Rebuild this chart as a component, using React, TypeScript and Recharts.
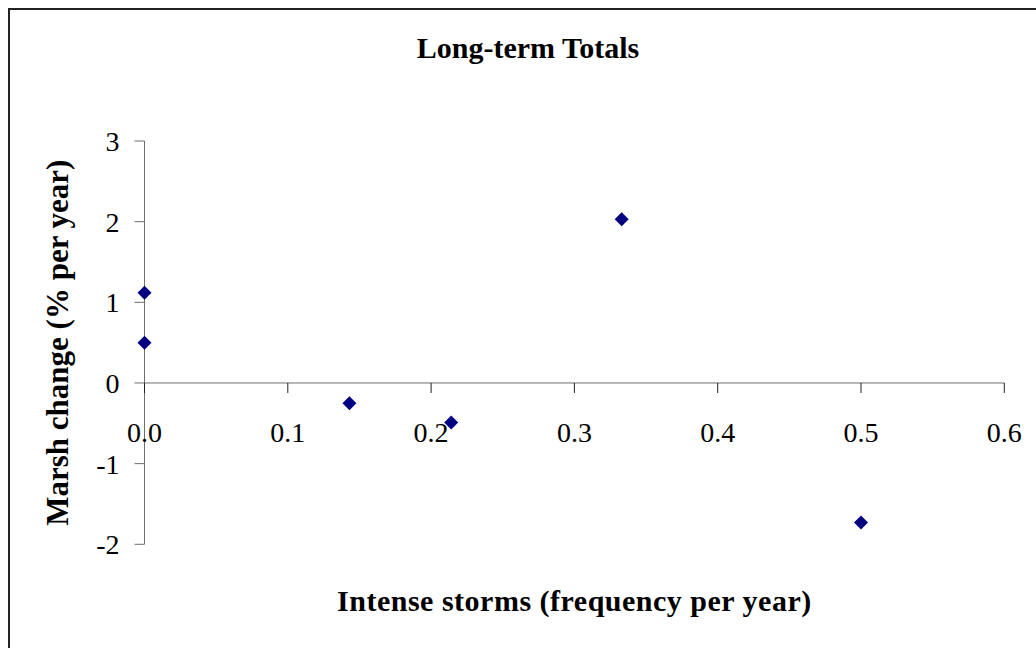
import React from 'react';
import { ScatterChart, Scatter, XAxis, YAxis, ReferenceLine, ReferenceDot, Label } from 'recharts';

// Long-term marsh change against intense storm frequency
const stormFrequency = [0, 0, 0.143, 0.214, 0.333, 0.5];
const marshChange = [1.12, 0.5, -0.25, -0.49, 2.03, -1.73];
const xTicks = [0, 0.1, 0.2, 0.3, 0.4, 0.5, 0.6];
const yTicks = [-2, -1, 0, 1, 2, 3];
const chartTitle = 'Long-term Totals';
const xTitle = 'Intense storms (frequency per year)';
const yTitle = 'Marsh change (% per year)';

const points = stormFrequency.map((x, i) => ({ x, y: marshChange[i] }));

const FONT = '"Liberation Serif", "Times New Roman", Times, serif';
const AXIS_COLOR = '#6e6e6e';

const Diamond = (props: any) => {
  const { cx, cy } = props;
  const r = 7;
  return (
    <path
      d={`M${cx},${cy - r}L${cx + r},${cy}L${cx},${cy + r}L${cx - r},${cy}Z`}
      fill="#000080"
    />
  );
};

// tick mark + label hanging below the zero line
const makeXTick = (label: string) => (props: any) => {
  const { cx, cy } = props;
  return (
    <g>
      <line x1={cx} y1={cy} x2={cx} y2={cy + 10} stroke="#222" strokeWidth={1} />
      <text x={cx} y={cy + 59} textAnchor="middle" fontSize={28} fontFamily={FONT} fill="#000">
        {label}
      </text>
    </g>
  );
};

const XTitle = (p: any) => {
  const vb = p.viewBox || { x: 134.5, y: 534.3, width: 860, height: 105 };
  return (
    <text
      x={vb.x + vb.width / 2}
      y={vb.y + 67}
      textAnchor="middle"
      fontSize={30}
      fontWeight="bold"
      letterSpacing={0.5}
      fontFamily={FONT}
      fill="#000"
    >
      {xTitle}
    </text>
  );
};

const YTitle = (p: any) => {
  const vb = p.viewBox || { x: 0, y: 131, width: 134.5, height: 403 };
  const cx = 58;
  const cy = vb.y + vb.height / 2;
  return (
    <text
      x={cx}
      y={cy}
      transform={`rotate(-90, ${cx}, ${cy})`}
      textAnchor="middle"
      fontSize={31}
      fontWeight="bold"
      fontFamily={FONT}
      fill="#000"
    >
      {yTitle}
    </text>
  );
};

export default function App() {
  return (
    <div
      style={{
        position: 'fixed',
        left: 8,
        top: 8,
        width: 1040,
        height: 640,
        border: '2px solid #222',
        background: '#fff',
      }}
    >
      <div
        style={{
          position: 'absolute',
          left: 0,
          top: 23,
          width: 1036,
          textAlign: 'center',
          fontFamily: FONT,
          fontWeight: 'bold',
          fontSize: 30,
          lineHeight: '30px',
          color: '#000',
        }}
      >
        {chartTitle}
      </div>
      <ScatterChart
        width={1040}
        height={640}
        margin={{ top: 131, right: 45.7, bottom: 0, left: 0 }}
      >
        <XAxis
          type="number"
          dataKey="x"
          domain={[0, 0.6]}
          ticks={xTicks}
          tick={false}
          tickLine={false}
          axisLine={false}
          height={105.7}
        >
          <Label content={XTitle} />
        </XAxis>
        <YAxis
          type="number"
          dataKey="y"
          domain={[-2, 3]}
          ticks={yTicks}
          interval={0}
          width={134.5}
          tickSize={10}
          tickMargin={15}
          tick={{ fontSize: 28, fill: '#000', fontFamily: FONT }}
          tickLine={{ stroke: AXIS_COLOR }}
          axisLine={{ stroke: AXIS_COLOR }}
        >
          <Label content={YTitle} />
        </YAxis>
        <ReferenceLine y={0} stroke={AXIS_COLOR} strokeWidth={1} />
        {xTicks.map((t) => (
          <ReferenceDot
            key={t}
            x={t}
            y={0}
            r={0}
            ifOverflow="visible"
            shape={makeXTick(t.toFixed(1))}
          />
        ))}
        <Scatter data={points} shape={Diamond} isAnimationActive={false} />
      </ScatterChart>
    </div>
  );
}
